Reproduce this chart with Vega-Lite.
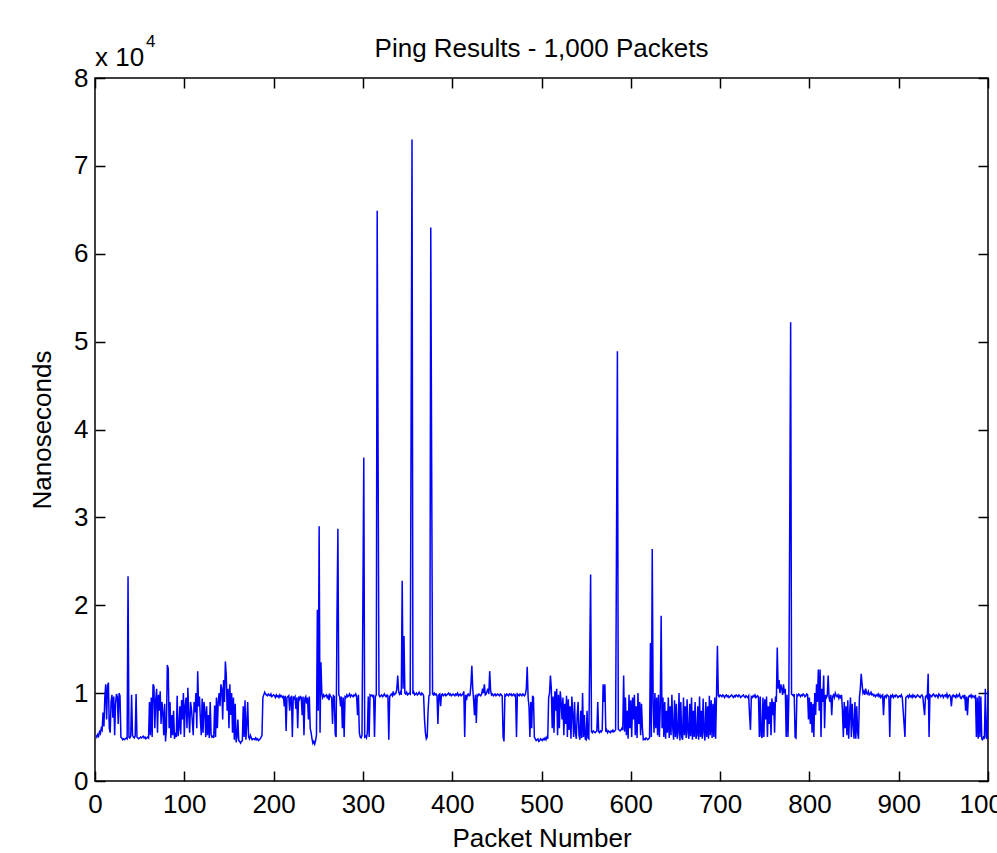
{
  "$schema": "https://vega.github.io/schema/vega-lite/v6.json",
  "width": 893,
  "height": 703,
  "autosize": {"type": "none"},
  "padding": {"left": 95, "top": 78, "right": 9, "bottom": 72},
  "background": "white",
  "config": {
    "font": "Liberation Sans",
    "view": {"stroke": "black", "strokeWidth": 1.5},
    "axis": {"grid": false, "domain": false, "labelColor": "black", "titleColor": "black", "tickColor": "black", "labelFont": "Liberation Sans", "titleFont": "Liberation Sans", "labelFontSize": 26, "titleFontSize": 26, "titleFontWeight": "normal", "labelFlush": false, "labelOverlap": false, "labelBound": false}
  },
  "data": {"values": [
{"x":1,"y":5200},{"x":2,"y":5000},{"x":3,"y":5300},{"x":4,"y":5100},{"x":5,"y":5600},{"x":6,"y":5400},{"x":7,"y":6000},{"x":8,"y":5800},{"x":9,"y":7800},{"x":10,"y":6200},
{"x":11,"y":9500},{"x":12,"y":11000},{"x":13,"y":7000},{"x":14,"y":10800},{"x":15,"y":11200},{"x":16,"y":6000},{"x":17,"y":5500},{"x":18,"y":9000},{"x":19,"y":9800},{"x":20,"y":7200},
{"x":21,"y":9600},{"x":22,"y":5200},{"x":23,"y":8800},{"x":24,"y":9900},{"x":25,"y":9600},{"x":26,"y":6500},{"x":27,"y":10000},{"x":28,"y":9700},{"x":29,"y":5000},{"x":30,"y":4900},
{"x":31,"y":4700},{"x":32,"y":4800},{"x":33,"y":4700},{"x":34,"y":4800},{"x":35,"y":4900},{"x":36,"y":4800},{"x":37,"y":23300},{"x":38,"y":5000},{"x":39,"y":4900},{"x":40,"y":5100},
{"x":41,"y":9800},{"x":42,"y":5200},{"x":43,"y":5000},{"x":44,"y":4900},{"x":45,"y":5100},{"x":46,"y":9900},{"x":47,"y":5000},{"x":48,"y":4900},{"x":49,"y":4800},{"x":50,"y":4900},
{"x":51,"y":5000},{"x":52,"y":4900},{"x":53,"y":5000},{"x":54,"y":5100},{"x":55,"y":4900},{"x":56,"y":5000},{"x":57,"y":4800},{"x":58,"y":4900},{"x":59,"y":5000},{"x":60,"y":4900},
{"x":61,"y":9000},{"x":62,"y":5200},{"x":63,"y":9500},{"x":64,"y":5000},{"x":65,"y":11000},{"x":66,"y":10800},{"x":67,"y":6000},{"x":68,"y":9200},{"x":69,"y":10500},{"x":70,"y":5500},
{"x":71,"y":9800},{"x":72,"y":8000},{"x":73,"y":10200},{"x":74,"y":6500},{"x":75,"y":9000},{"x":76,"y":7800},{"x":77,"y":5200},{"x":78,"y":8800},{"x":79,"y":4500},{"x":80,"y":6000},
{"x":81,"y":13200},{"x":82,"y":12800},{"x":83,"y":6000},{"x":84,"y":9000},{"x":85,"y":4900},{"x":86,"y":7500},{"x":87,"y":5200},{"x":88,"y":8000},{"x":89,"y":4800},{"x":90,"y":5500},
{"x":91,"y":5000},{"x":92,"y":9700},{"x":93,"y":5100},{"x":94,"y":6000},{"x":95,"y":8500},{"x":96,"y":5300},{"x":97,"y":9200},{"x":98,"y":7000},{"x":99,"y":10000},{"x":100,"y":5000},
{"x":101,"y":8600},{"x":102,"y":9500},{"x":103,"y":6000},{"x":104,"y":10600},{"x":105,"y":7500},{"x":106,"y":5500},{"x":107,"y":9000},{"x":108,"y":8200},{"x":109,"y":6800},{"x":110,"y":5200},
{"x":111,"y":9000},{"x":112,"y":7800},{"x":113,"y":10000},{"x":114,"y":6000},{"x":115,"y":12500},{"x":116,"y":8500},{"x":117,"y":9600},{"x":118,"y":7000},{"x":119,"y":5200},{"x":120,"y":9400},
{"x":121,"y":5500},{"x":122,"y":9000},{"x":123,"y":8000},{"x":124,"y":5000},{"x":125,"y":8500},{"x":126,"y":5200},{"x":127,"y":7500},{"x":128,"y":4900},{"x":129,"y":9000},{"x":130,"y":5300},
{"x":131,"y":5000},{"x":132,"y":5100},{"x":133,"y":4900},{"x":134,"y":8600},{"x":135,"y":5000},{"x":136,"y":9500},{"x":137,"y":6000},{"x":138,"y":9000},{"x":139,"y":10000},{"x":140,"y":8500},
{"x":141,"y":11000},{"x":142,"y":10500},{"x":143,"y":7000},{"x":144,"y":11500},{"x":145,"y":9000},{"x":146,"y":13600},{"x":147,"y":12000},{"x":148,"y":8000},{"x":149,"y":10500},{"x":150,"y":6000},
{"x":151,"y":11000},{"x":152,"y":7500},{"x":153,"y":10000},{"x":154,"y":5500},{"x":155,"y":9500},{"x":156,"y":4700},{"x":157,"y":8800},{"x":158,"y":4400},{"x":159,"y":5000},{"x":160,"y":7000},
{"x":161,"y":4600},{"x":162,"y":4500},{"x":163,"y":4300},{"x":164,"y":4500},{"x":165,"y":4600},{"x":166,"y":8500},{"x":167,"y":5000},{"x":168,"y":9200},{"x":169,"y":4700},{"x":170,"y":6500},
{"x":171,"y":9000},{"x":172,"y":5000},{"x":173,"y":4800},{"x":174,"y":5200},{"x":175,"y":4900},{"x":176,"y":4700},{"x":177,"y":4800},{"x":178,"y":4800},{"x":179,"y":4700},{"x":180,"y":4900},
{"x":181,"y":4700},{"x":182,"y":4800},{"x":183,"y":4600},{"x":184,"y":4700},{"x":185,"y":4800},{"x":186,"y":5000},{"x":187,"y":5200},{"x":188,"y":9500},{"x":189,"y":9800},{"x":190,"y":10100},
{"x":191,"y":9900},{"x":192,"y":9800},{"x":193,"y":9700},{"x":194,"y":9900},{"x":195,"y":9800},{"x":196,"y":9700},{"x":197,"y":9900},{"x":198,"y":9600},{"x":199,"y":9700},{"x":200,"y":9800},
{"x":201,"y":9700},{"x":202,"y":9500},{"x":203,"y":9800},{"x":204,"y":9600},{"x":205,"y":9700},{"x":206,"y":9500},{"x":207,"y":9800},{"x":208,"y":9600},{"x":209,"y":9700},{"x":210,"y":9500},
{"x":211,"y":9600},{"x":212,"y":8500},{"x":213,"y":9700},{"x":214,"y":5700},{"x":215,"y":9500},{"x":216,"y":9600},{"x":217,"y":9700},{"x":218,"y":8000},{"x":219,"y":9500},{"x":220,"y":9600},
{"x":221,"y":5000},{"x":222,"y":9600},{"x":223,"y":9400},{"x":224,"y":9600},{"x":225,"y":8200},{"x":226,"y":9500},{"x":227,"y":6000},{"x":228,"y":9600},{"x":229,"y":9300},{"x":230,"y":9600},
{"x":231,"y":9500},{"x":232,"y":7500},{"x":233,"y":9600},{"x":234,"y":5200},{"x":235,"y":9400},{"x":236,"y":9600},{"x":237,"y":8800},{"x":238,"y":9500},{"x":239,"y":7000},{"x":240,"y":9600},
{"x":241,"y":6000},{"x":242,"y":5500},{"x":243,"y":4800},{"x":244,"y":4300},{"x":245,"y":4500},{"x":246,"y":4200},{"x":247,"y":4600},{"x":248,"y":5200},{"x":249,"y":19500},{"x":250,"y":8000},
{"x":251,"y":29000},{"x":252,"y":5500},{"x":253,"y":13500},{"x":254,"y":10000},{"x":255,"y":9500},{"x":256,"y":9800},{"x":257,"y":9600},{"x":258,"y":9700},{"x":259,"y":9800},{"x":260,"y":9500},
{"x":261,"y":9700},{"x":262,"y":9200},{"x":263,"y":9800},{"x":264,"y":9600},{"x":265,"y":9500},{"x":266,"y":6500},{"x":267,"y":9700},{"x":268,"y":9600},{"x":269,"y":5300},{"x":270,"y":5000},
{"x":271,"y":18800},{"x":272,"y":28700},{"x":273,"y":9800},{"x":274,"y":9600},{"x":275,"y":8500},{"x":276,"y":9600},{"x":277,"y":6000},{"x":278,"y":9500},{"x":279,"y":5000},{"x":280,"y":9600},
{"x":281,"y":9500},{"x":282,"y":9800},{"x":283,"y":9600},{"x":284,"y":9700},{"x":285,"y":9900},{"x":286,"y":9600},{"x":287,"y":9800},{"x":288,"y":9700},{"x":289,"y":9600},{"x":290,"y":9800},
{"x":291,"y":9700},{"x":292,"y":9900},{"x":293,"y":9600},{"x":294,"y":7500},{"x":295,"y":9800},{"x":296,"y":5500},{"x":297,"y":5000},{"x":298,"y":4900},{"x":299,"y":5200},{"x":300,"y":20700},
{"x":301,"y":36800},{"x":302,"y":5000},{"x":303,"y":5100},{"x":304,"y":4900},{"x":305,"y":5500},{"x":306,"y":9600},{"x":307,"y":5000},{"x":308,"y":9800},{"x":309,"y":9700},{"x":310,"y":9800},
{"x":311,"y":9600},{"x":312,"y":9700},{"x":313,"y":5000},{"x":314,"y":9600},{"x":315,"y":9800},{"x":316,"y":64900},{"x":317,"y":37000},{"x":318,"y":9800},{"x":319,"y":9600},{"x":320,"y":9700},
{"x":321,"y":9800},{"x":322,"y":9600},{"x":323,"y":9700},{"x":324,"y":9900},{"x":325,"y":9700},{"x":326,"y":9600},{"x":327,"y":9800},{"x":328,"y":9700},{"x":329,"y":4700},{"x":330,"y":9600},
{"x":331,"y":9800},{"x":332,"y":9900},{"x":333,"y":9700},{"x":334,"y":10200},{"x":335,"y":9800},{"x":336,"y":9900},{"x":337,"y":10000},{"x":338,"y":10500},{"x":339,"y":12000},{"x":340,"y":10200},
{"x":341,"y":9900},{"x":342,"y":10100},{"x":343,"y":9800},{"x":344,"y":22800},{"x":345,"y":10500},{"x":346,"y":16500},{"x":347,"y":10000},{"x":348,"y":9900},{"x":349,"y":10100},{"x":350,"y":9800},
{"x":351,"y":9900},{"x":352,"y":10000},{"x":353,"y":9900},{"x":354,"y":41300},{"x":355,"y":73000},{"x":356,"y":9900},{"x":357,"y":10100},{"x":358,"y":9800},{"x":359,"y":9900},{"x":360,"y":10000},
{"x":361,"y":9800},{"x":362,"y":9900},{"x":363,"y":10100},{"x":364,"y":9900},{"x":365,"y":9800},{"x":366,"y":10000},{"x":367,"y":9900},{"x":368,"y":9700},{"x":369,"y":7000},{"x":370,"y":5500},
{"x":371,"y":4800},{"x":372,"y":5000},{"x":373,"y":8000},{"x":374,"y":9700},{"x":375,"y":9800},{"x":376,"y":63000},{"x":377,"y":36200},{"x":378,"y":9900},{"x":379,"y":9800},{"x":380,"y":10000},
{"x":381,"y":9800},{"x":382,"y":9900},{"x":383,"y":9700},{"x":384,"y":6500},{"x":385,"y":9800},{"x":386,"y":9900},{"x":387,"y":8500},{"x":388,"y":9800},{"x":389,"y":9900},{"x":390,"y":9700},
{"x":391,"y":9800},{"x":392,"y":9900},{"x":393,"y":9700},{"x":394,"y":9800},{"x":395,"y":9900},{"x":396,"y":10000},{"x":397,"y":9800},{"x":398,"y":9900},{"x":399,"y":9700},{"x":400,"y":9800},
{"x":401,"y":9900},{"x":402,"y":9800},{"x":403,"y":9700},{"x":404,"y":9900},{"x":405,"y":9800},{"x":406,"y":10000},{"x":407,"y":9700},{"x":408,"y":9800},{"x":409,"y":9900},{"x":410,"y":9700},
{"x":411,"y":9800},{"x":412,"y":9900},{"x":413,"y":10200},{"x":414,"y":5000},{"x":415,"y":9800},{"x":416,"y":9200},{"x":417,"y":9800},{"x":418,"y":9900},{"x":419,"y":9700},{"x":420,"y":9800},
{"x":421,"y":11000},{"x":422,"y":13100},{"x":423,"y":10500},{"x":424,"y":9200},{"x":425,"y":7500},{"x":426,"y":9800},{"x":427,"y":6600},{"x":428,"y":9800},{"x":429,"y":9700},{"x":430,"y":9900},
{"x":431,"y":9800},{"x":432,"y":9700},{"x":433,"y":9900},{"x":434,"y":10500},{"x":435,"y":10000},{"x":436,"y":11000},{"x":437,"y":9800},{"x":438,"y":9900},{"x":439,"y":10200},{"x":440,"y":10500},
{"x":441,"y":9900},{"x":442,"y":12500},{"x":443,"y":10300},{"x":444,"y":9800},{"x":445,"y":9900},{"x":446,"y":9700},{"x":447,"y":9800},{"x":448,"y":9900},{"x":449,"y":9700},{"x":450,"y":9800},
{"x":451,"y":9900},{"x":452,"y":9800},{"x":453,"y":9700},{"x":454,"y":9900},{"x":455,"y":9800},{"x":456,"y":9700},{"x":457,"y":5000},{"x":458,"y":4500},{"x":459,"y":9800},{"x":460,"y":9700},
{"x":461,"y":9900},{"x":462,"y":9800},{"x":463,"y":9700},{"x":464,"y":9900},{"x":465,"y":9800},{"x":466,"y":9900},{"x":467,"y":9700},{"x":468,"y":9800},{"x":469,"y":9900},{"x":470,"y":9700},
{"x":471,"y":9800},{"x":472,"y":5000},{"x":473,"y":9900},{"x":474,"y":9800},{"x":475,"y":9700},{"x":476,"y":9900},{"x":477,"y":9800},{"x":478,"y":9700},{"x":479,"y":9900},{"x":480,"y":9800},
{"x":481,"y":9700},{"x":482,"y":9900},{"x":483,"y":10500},{"x":484,"y":13000},{"x":485,"y":9500},{"x":486,"y":8500},{"x":487,"y":5000},{"x":488,"y":9000},{"x":489,"y":6000},{"x":490,"y":9700},
{"x":491,"y":9500},{"x":492,"y":5000},{"x":493,"y":4800},{"x":494,"y":4600},{"x":495,"y":4700},{"x":496,"y":4800},{"x":497,"y":4500},{"x":498,"y":4600},{"x":499,"y":4800},{"x":500,"y":4700},
{"x":501,"y":4600},{"x":502,"y":4800},{"x":503,"y":4700},{"x":504,"y":4900},{"x":505,"y":4700},{"x":506,"y":5000},{"x":507,"y":4800},{"x":508,"y":9500},{"x":509,"y":10000},{"x":510,"y":12000},
{"x":511,"y":10500},{"x":512,"y":6000},{"x":513,"y":9600},{"x":514,"y":5500},{"x":515,"y":10200},{"x":516,"y":8000},{"x":517,"y":10500},{"x":518,"y":5200},{"x":519,"y":9800},{"x":520,"y":6000},
{"x":521,"y":10200},{"x":522,"y":9000},{"x":523,"y":7000},{"x":524,"y":9500},{"x":525,"y":5200},{"x":526,"y":8800},{"x":527,"y":6500},{"x":528,"y":9700},{"x":529,"y":5000},{"x":530,"y":9300},
{"x":531,"y":5800},{"x":532,"y":8500},{"x":533,"y":4800},{"x":534,"y":9600},{"x":535,"y":7500},{"x":536,"y":5000},{"x":537,"y":9000},{"x":538,"y":5500},{"x":539,"y":4800},{"x":540,"y":7500},
{"x":541,"y":9000},{"x":542,"y":5200},{"x":543,"y":4700},{"x":544,"y":8000},{"x":545,"y":4900},{"x":546,"y":10000},{"x":547,"y":5000},{"x":548,"y":7500},{"x":549,"y":4800},{"x":550,"y":4700},
{"x":551,"y":8000},{"x":552,"y":4900},{"x":553,"y":4800},{"x":554,"y":14000},{"x":555,"y":23500},{"x":556,"y":5600},{"x":557,"y":5500},{"x":558,"y":5700},{"x":559,"y":5600},{"x":560,"y":5500},
{"x":561,"y":5600},{"x":562,"y":5700},{"x":563,"y":9000},{"x":564,"y":5600},{"x":565,"y":5500},{"x":566,"y":5700},{"x":567,"y":5600},{"x":568,"y":5800},{"x":569,"y":11000},{"x":570,"y":9000},
{"x":571,"y":11000},{"x":572,"y":5600},{"x":573,"y":5800},{"x":574,"y":5500},{"x":575,"y":5700},{"x":576,"y":5600},{"x":577,"y":5500},{"x":578,"y":5700},{"x":579,"y":5600},{"x":580,"y":5800},
{"x":581,"y":5600},{"x":582,"y":5700},{"x":583,"y":5800},{"x":584,"y":27300},{"x":585,"y":48900},{"x":586,"y":5900},{"x":587,"y":5800},{"x":588,"y":5700},{"x":589,"y":5800},{"x":590,"y":6000},
{"x":591,"y":5800},{"x":592,"y":12000},{"x":593,"y":5600},{"x":594,"y":9500},{"x":595,"y":5200},{"x":596,"y":8000},{"x":597,"y":4800},{"x":598,"y":9800},{"x":599,"y":6000},{"x":600,"y":9200},
{"x":601,"y":5000},{"x":602,"y":9500},{"x":603,"y":7000},{"x":604,"y":9800},{"x":605,"y":5200},{"x":606,"y":8500},{"x":607,"y":4900},{"x":608,"y":10000},{"x":609,"y":6500},{"x":610,"y":9000},
{"x":611,"y":5200},{"x":612,"y":8800},{"x":613,"y":6000},{"x":614,"y":4700},{"x":615,"y":4800},{"x":616,"y":4700},{"x":617,"y":4900},{"x":618,"y":4800},{"x":619,"y":4700},{"x":620,"y":4800},
{"x":621,"y":4900},{"x":622,"y":15700},{"x":623,"y":5000},{"x":624,"y":26400},{"x":625,"y":9000},{"x":626,"y":5500},{"x":627,"y":10000},{"x":628,"y":6000},{"x":629,"y":9500},{"x":630,"y":5200},
{"x":631,"y":9800},{"x":632,"y":5000},{"x":633,"y":8500},{"x":634,"y":18800},{"x":635,"y":6000},{"x":636,"y":9500},{"x":637,"y":5000},{"x":638,"y":9000},{"x":639,"y":4800},{"x":640,"y":8000},
{"x":641,"y":5500},{"x":642,"y":9500},{"x":643,"y":4900},{"x":644,"y":8500},{"x":645,"y":5200},{"x":646,"y":9800},{"x":647,"y":6000},{"x":648,"y":4700},{"x":649,"y":9200},{"x":650,"y":5000},
{"x":651,"y":8800},{"x":652,"y":4800},{"x":653,"y":5500},{"x":654,"y":10000},{"x":655,"y":4600},{"x":656,"y":9000},{"x":657,"y":5000},{"x":658,"y":4700},{"x":659,"y":9500},{"x":660,"y":5200},
{"x":661,"y":8500},{"x":662,"y":4900},{"x":663,"y":9300},{"x":664,"y":5500},{"x":665,"y":4800},{"x":666,"y":8800},{"x":667,"y":5100},{"x":668,"y":9500},{"x":669,"y":4700},{"x":670,"y":8000},
{"x":671,"y":5000},{"x":672,"y":9000},{"x":673,"y":4800},{"x":674,"y":5200},{"x":675,"y":8500},{"x":676,"y":4700},{"x":677,"y":9600},{"x":678,"y":5000},{"x":679,"y":8000},{"x":680,"y":4800},
{"x":681,"y":9400},{"x":682,"y":5500},{"x":683,"y":4600},{"x":684,"y":9000},{"x":685,"y":5000},{"x":686,"y":8500},{"x":687,"y":4800},{"x":688,"y":9700},{"x":689,"y":5200},{"x":690,"y":9200},
{"x":691,"y":4900},{"x":692,"y":8800},{"x":693,"y":5000},{"x":694,"y":9500},{"x":695,"y":4800},{"x":696,"y":9800},{"x":697,"y":15400},{"x":698,"y":9700},{"x":699,"y":9600},{"x":700,"y":9800},
{"x":701,"y":9700},{"x":702,"y":9600},{"x":703,"y":9800},{"x":704,"y":9700},{"x":705,"y":9500},{"x":706,"y":9700},{"x":707,"y":9800},{"x":708,"y":9600},{"x":709,"y":9700},{"x":710,"y":9500},
{"x":711,"y":9600},{"x":712,"y":9700},{"x":713,"y":9800},{"x":714,"y":9600},{"x":715,"y":9500},{"x":716,"y":9700},{"x":717,"y":9600},{"x":718,"y":9800},{"x":719,"y":9700},{"x":720,"y":9600},
{"x":721,"y":9800},{"x":722,"y":9700},{"x":723,"y":9500},{"x":724,"y":9600},{"x":725,"y":9700},{"x":726,"y":9800},{"x":727,"y":9600},{"x":728,"y":9500},{"x":729,"y":9700},{"x":730,"y":9600},
{"x":731,"y":9500},{"x":732,"y":9700},{"x":733,"y":7500},{"x":734,"y":5800},{"x":735,"y":9600},{"x":736,"y":9500},{"x":737,"y":9700},{"x":738,"y":9600},{"x":739,"y":9800},{"x":740,"y":9500},
{"x":741,"y":9600},{"x":742,"y":9700},{"x":743,"y":9500},{"x":744,"y":5000},{"x":745,"y":9600},{"x":746,"y":5200},{"x":747,"y":4900},{"x":748,"y":9500},{"x":749,"y":5000},{"x":750,"y":9300},
{"x":751,"y":7000},{"x":752,"y":9600},{"x":753,"y":5000},{"x":754,"y":8500},{"x":755,"y":6500},{"x":756,"y":9000},{"x":757,"y":5200},{"x":758,"y":9400},{"x":759,"y":7500},{"x":760,"y":9000},
{"x":761,"y":5500},{"x":762,"y":9600},{"x":763,"y":9000},{"x":764,"y":15200},{"x":765,"y":10500},{"x":766,"y":11500},{"x":767,"y":10000},{"x":768,"y":11000},{"x":769,"y":10500},{"x":770,"y":9800},
{"x":771,"y":11000},{"x":772,"y":10000},{"x":773,"y":10500},{"x":774,"y":5000},{"x":775,"y":9800},{"x":776,"y":5000},{"x":777,"y":9600},{"x":778,"y":29900},{"x":779,"y":52200},{"x":780,"y":9900},
{"x":781,"y":9800},{"x":782,"y":9700},{"x":783,"y":9900},{"x":784,"y":5000},{"x":785,"y":4900},{"x":786,"y":9800},{"x":787,"y":9700},{"x":788,"y":9900},{"x":789,"y":9800},{"x":790,"y":9600},
{"x":791,"y":9800},{"x":792,"y":9700},{"x":793,"y":9900},{"x":794,"y":9800},{"x":795,"y":9600},{"x":796,"y":9700},{"x":797,"y":9900},{"x":798,"y":9800},{"x":799,"y":7000},{"x":800,"y":9500},
{"x":801,"y":6500},{"x":802,"y":9000},{"x":803,"y":5500},{"x":804,"y":8800},{"x":805,"y":5000},{"x":806,"y":10000},{"x":807,"y":7500},{"x":808,"y":11000},{"x":809,"y":9000},{"x":810,"y":12700},
{"x":811,"y":8000},{"x":812,"y":12700},{"x":813,"y":5000},{"x":814,"y":10500},{"x":815,"y":9000},{"x":816,"y":12000},{"x":817,"y":6000},{"x":818,"y":9800},{"x":819,"y":9500},{"x":820,"y":9700},
{"x":821,"y":12000},{"x":822,"y":9500},{"x":823,"y":9000},{"x":824,"y":9800},{"x":825,"y":7500},{"x":826,"y":9600},{"x":827,"y":9800},{"x":828,"y":9500},{"x":829,"y":10000},{"x":830,"y":9700},
{"x":831,"y":9600},{"x":832,"y":9800},{"x":833,"y":9400},{"x":834,"y":9700},{"x":835,"y":9500},{"x":836,"y":9800},{"x":837,"y":8000},{"x":838,"y":5000},{"x":839,"y":9000},{"x":840,"y":6000},
{"x":841,"y":8500},{"x":842,"y":5200},{"x":843,"y":9200},{"x":844,"y":4800},{"x":845,"y":7500},{"x":846,"y":9500},{"x":847,"y":5000},{"x":848,"y":8800},{"x":849,"y":6500},{"x":850,"y":4800},
{"x":851,"y":9000},{"x":852,"y":4800},{"x":853,"y":8500},{"x":854,"y":5500},{"x":855,"y":4800},{"x":856,"y":9500},{"x":857,"y":10500},{"x":858,"y":12200},{"x":859,"y":11000},{"x":860,"y":10000},
{"x":861,"y":10200},{"x":862,"y":9800},{"x":863,"y":10500},{"x":864,"y":10000},{"x":865,"y":9900},{"x":866,"y":10200},{"x":867,"y":9800},{"x":868,"y":9900},{"x":869,"y":10100},{"x":870,"y":9800},
{"x":871,"y":9900},{"x":872,"y":9700},{"x":873,"y":9800},{"x":874,"y":9600},{"x":875,"y":9800},{"x":876,"y":9700},{"x":877,"y":9900},{"x":878,"y":9600},{"x":879,"y":9800},{"x":880,"y":9500},
{"x":881,"y":9700},{"x":882,"y":9800},{"x":883,"y":7500},{"x":884,"y":9600},{"x":885,"y":9700},{"x":886,"y":9500},{"x":887,"y":9800},{"x":888,"y":9700},{"x":889,"y":9600},{"x":890,"y":5000},
{"x":891,"y":9700},{"x":892,"y":9600},{"x":893,"y":9800},{"x":894,"y":9500},{"x":895,"y":9700},{"x":896,"y":9600},{"x":897,"y":9800},{"x":898,"y":9700},{"x":899,"y":9500},{"x":900,"y":9600},
{"x":901,"y":9700},{"x":902,"y":9600},{"x":903,"y":9800},{"x":904,"y":9500},{"x":905,"y":8000},{"x":906,"y":6500},{"x":907,"y":5000},{"x":908,"y":9500},{"x":909,"y":9600},{"x":910,"y":9700},
{"x":911,"y":9500},{"x":912,"y":9800},{"x":913,"y":9600},{"x":914,"y":9700},{"x":915,"y":9500},{"x":916,"y":9800},{"x":917,"y":9600},{"x":918,"y":9700},{"x":919,"y":9500},{"x":920,"y":9600},
{"x":921,"y":9800},{"x":922,"y":9700},{"x":923,"y":9600},{"x":924,"y":9500},{"x":925,"y":9700},{"x":926,"y":9800},{"x":927,"y":9600},{"x":928,"y":8500},{"x":929,"y":7500},{"x":930,"y":9600},
{"x":931,"y":9700},{"x":932,"y":9500},{"x":933,"y":12200},{"x":934,"y":5000},{"x":935,"y":9800},{"x":936,"y":9700},{"x":937,"y":9600},{"x":938,"y":9800},{"x":939,"y":9900},{"x":940,"y":9700},
{"x":941,"y":9600},{"x":942,"y":9800},{"x":943,"y":9700},{"x":944,"y":9500},{"x":945,"y":9900},{"x":946,"y":9800},{"x":947,"y":9600},{"x":948,"y":9700},{"x":949,"y":9800},{"x":950,"y":9500},
{"x":951,"y":9700},{"x":952,"y":9800},{"x":953,"y":9600},{"x":954,"y":9900},{"x":955,"y":9500},{"x":956,"y":9700},{"x":957,"y":9800},{"x":958,"y":9600},{"x":959,"y":8500},{"x":960,"y":9700},
{"x":961,"y":9800},{"x":962,"y":9600},{"x":963,"y":9700},{"x":964,"y":9500},{"x":965,"y":9800},{"x":966,"y":9600},{"x":967,"y":9700},{"x":968,"y":9900},{"x":969,"y":9500},{"x":970,"y":9400},
{"x":971,"y":9600},{"x":972,"y":9700},{"x":973,"y":9500},{"x":974,"y":9800},{"x":975,"y":8000},{"x":976,"y":9600},{"x":977,"y":7500},{"x":978,"y":9500},{"x":979,"y":9700},{"x":980,"y":9600},
{"x":981,"y":9800},{"x":982,"y":9500},{"x":983,"y":9700},{"x":984,"y":9600},{"x":985,"y":9500},{"x":986,"y":9800},{"x":987,"y":5000},{"x":988,"y":9500},{"x":989,"y":4800},{"x":990,"y":9700},
{"x":991,"y":5000},{"x":992,"y":9600},{"x":993,"y":4800},{"x":994,"y":4700},{"x":995,"y":5000},{"x":996,"y":4900},{"x":997,"y":10500},{"x":998,"y":5000},{"x":999,"y":4800},{"x":1000,"y":10300}
  ]},
  "layer": [
    {
      "mark": {"type": "line", "color": "#0000ff", "strokeWidth": 1.5},
      "encoding": {
        "x": {"field": "x", "type": "quantitative", "scale": {"domain": [0, 1000], "nice": false, "zero": false},
              "axis": {"orient": "bottom", "values": [0,100,200,300,400,500,600,700,800,900,1000], "format": "d", "tickSize": -10, "tickWidth": 1.5, "labelPadding": 20, "title": "Packet Number", "titlePadding": 8}},
        "y": {"field": "y", "type": "quantitative", "scale": {"domain": [0, 80000], "nice": false},
              "axis": {"orient": "left", "values": [0,10000,20000,30000,40000,50000,60000,70000,80000], "labelExpr": "datum.value / 10000", "tickSize": -10, "tickWidth": 1.5, "labelPadding": 17, "title": "Nanoseconds", "titlePadding": 18}}
      }
    },
    {
      "mark": {"type": "line", "strokeOpacity": 0},
      "encoding": {
        "x": {"field": "x", "type": "quantitative", "axis": {"orient": "top", "values": [0,100,200,300,400,500,600,700,800,900,1000], "tickSize": -10, "tickWidth": 1.5, "labels": false, "title": null}},
        "y": {"field": "y", "type": "quantitative", "axis": {"orient": "right", "values": [0,10000,20000,30000,40000,50000,60000,70000,80000], "tickSize": -10, "tickWidth": 1.5, "labels": false, "title": null}}
      }
    },
    {
      "data": {"values": [{"x": 0, "y": 80000, "t": "x 10"}]},
      "mark": {"type": "text", "align": "left", "baseline": "alphabetic", "dy": -12, "fontSize": 26, "font": "Liberation Sans", "color": "black"},
      "encoding": {"x": {"field": "x", "type": "quantitative", "axis": null}, "y": {"field": "y", "type": "quantitative", "axis": null}, "text": {"field": "t"}}
    },
    {
      "data": {"values": [{"x": 0, "y": 80000, "t": "4"}]},
      "mark": {"type": "text", "align": "left", "baseline": "alphabetic", "dx": 51, "dy": -31, "fontSize": 17, "font": "Liberation Sans", "color": "black"},
      "encoding": {"x": {"field": "x", "type": "quantitative", "axis": null}, "y": {"field": "y", "type": "quantitative", "axis": null}, "text": {"field": "t"}}
    },
    {
      "data": {"values": [{"x": 500, "y": 80000, "t": "Ping Results - 1,000 Packets"}]},
      "mark": {"type": "text", "align": "center", "baseline": "alphabetic", "dy": -21, "fontSize": 26, "font": "Liberation Sans", "color": "black"},
      "encoding": {"x": {"field": "x", "type": "quantitative", "axis": null}, "y": {"field": "y", "type": "quantitative", "axis": null}, "text": {"field": "t"}}
    }
  ],
  "resolve": {"axis": {"x": "independent", "y": "independent"}}
}
